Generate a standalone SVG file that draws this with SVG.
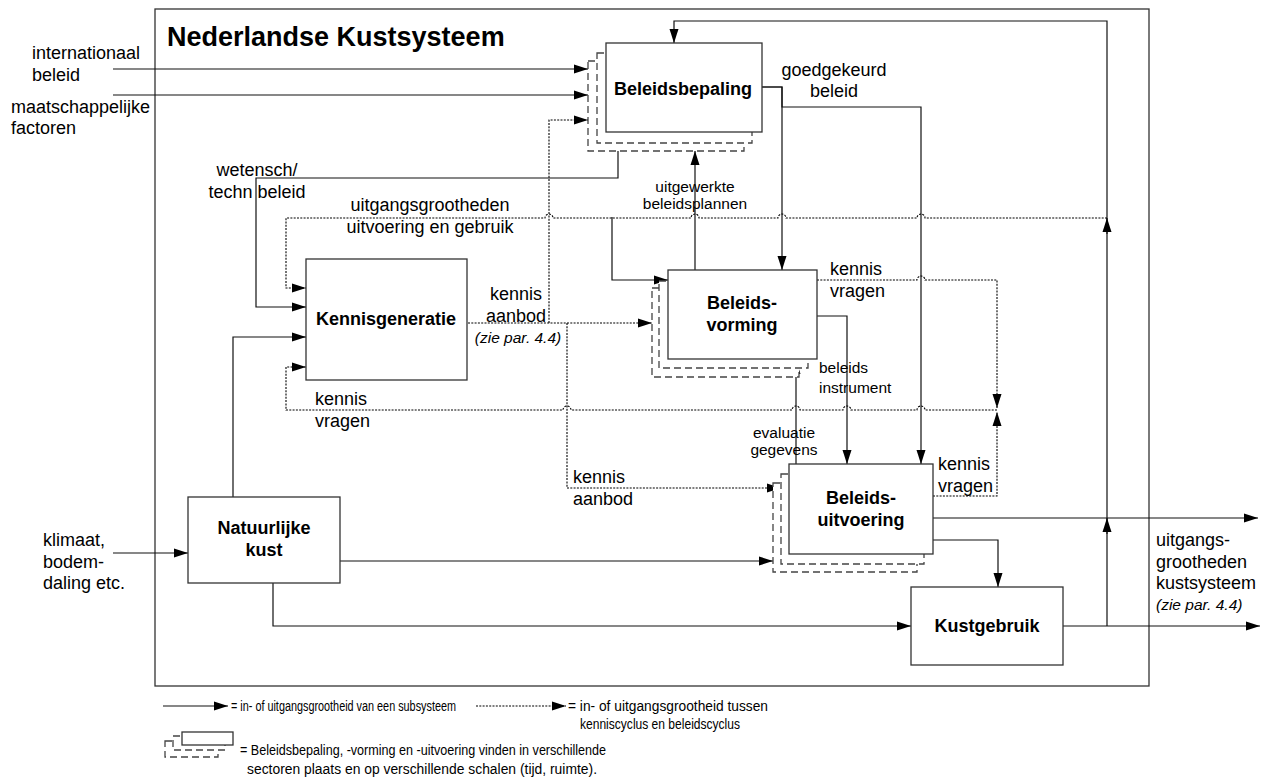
<svg xmlns="http://www.w3.org/2000/svg" width="1273" height="781" viewBox="0 0 1273 781">
  <defs>
    <marker id="ah" markerWidth="14" markerHeight="10" refX="14" refY="5" orient="auto" markerUnits="userSpaceOnUse">
      <path d="M0,0.5 L14,5 L0,9.5 z" fill="#000"/>
    </marker>
    <style>
      text { font-family: "Liberation Sans", Arial, sans-serif; fill: #000; }
      .lbl { font-size: 18px; }
      .sm { font-size: 15.5px; }
      .it { font-size: 15.5px; font-style: italic; }
      .bold { font-size: 18px; font-weight: bold; }
      .mid { text-anchor: middle; }
      .leg { font-size: 15.5px; }
      .box { fill: #fff; stroke: #333; stroke-width: 1.3; }
      .shadow { fill: #fff; stroke: #444; stroke-width: 1.3; stroke-dasharray: 7 4; }
      .s { fill: none; stroke: #111; stroke-width: 1.2; }
      .d { fill: none; stroke: #000; stroke-width: 1.1; stroke-dasharray: 2 1.3; }
      .arr { marker-end: url(#ah); }
    </style>
  </defs>

  <rect width="1273" height="781" fill="#fff"/>

  <!-- system boundary -->
  <g id="frame">
    <rect x="155" y="9" width="994" height="677" fill="none" stroke="#333" stroke-width="1.3"/>
    <text x="167" y="46" font-size="27" font-weight="bold">Nederlandse Kustsysteem</text>
  </g>

  <!-- connectors -->
  <g id="connectors">
    <!-- external inputs -->
    <path class="s arr" d="M113,69 H588"/>
    <path class="s arr" d="M113,95 H588"/>
    <path class="s arr" d="M113,553 H188"/>

    <!-- feedback loop along the right side to Beleidsbepaling -->
    <path class="s arr" d="M1107,626 V21 H674 V43"/>
    <path class="s arr" d="M1107,534 V518"/>
    <path class="s arr" d="M1107,234 V218"/>

    <!-- goedgekeurd beleid -->
    <path class="s arr" d="M762,87 H782 V270"/>
    <path class="s arr" d="M762,87 H782 V107 H921 V464"/>

    <!-- wetensch/techn beleid -->
    <path class="s arr" d="M618,132 V178 H256 V307 H306"/>

    <!-- Natuurlijke kust outputs -->
    <path class="s arr" d="M233,497 V337 H306"/>
    <path class="s arr" d="M340,561 H773"/>
    <path class="s arr" d="M273,583 V626 H911"/>

    <!-- Beleidsvorming / Beleidsuitvoering links -->
    <path class="s arr" d="M817,316 H847 V464"/>
    <path class="s arr" d="M796,464 V360"/>
    <path class="s arr" d="M695,270 V151"/>
    <path class="s arr" d="M612,217 V280 H668"/>

    <!-- outputs of the system -->
    <path class="s arr" d="M933,518 H1258"/>
    <path class="s arr" d="M933,540 H998 V587"/>
    <path class="s arr" d="M1063,626 H1260"/>

    <!-- dotted: uitgangsgrootheden uitvoering en gebruik -->
    <path class="d arr" d="M1107,218 H925 a4,4 0 0 0 -8,0 H786 a4,4 0 0 0 -8,0 H699 a4,4 0 0 0 -8,0 H553 a4,4 0 0 0 -8,0 H286 V288 H306"/>

    <!-- dotted: kennis vragen (lower loop) -->
    <path class="d arr" d="M997,410 H925 a4,4 0 0 0 -8,0 H851 a4,4 0 0 0 -8,0 H800 a4,4 0 0 0 -8,0 H571 a4,4 0 0 0 -8,0 H286 V367 H306"/>
    <path class="d arr" d="M817,280 H917 a4,4 0 0 1 8,0 H997 V408"/>
    <path class="d arr" d="M933,496 H997 V412"/>

    <!-- dotted: kennis aanbod -->
    <path class="d arr" d="M468,323 H652"/>
    <path class="d arr" d="M549,323 V120 H588"/>
    <path class="d arr" d="M567,323 V488 H781"/>
  </g>

  <!-- nodes -->
  <g id="beleidsbepaling">
    <rect class="shadow" x="588" y="61" width="156" height="90"/>
    <rect class="shadow" x="597" y="53" width="155" height="90"/>
    <rect class="box" x="606" y="43" width="156" height="89"/>
    <text class="bold mid" x="683" y="95">Beleidsbepaling</text>
  </g>

  <g id="kennisgeneratie">
    <rect class="box" x="306" y="259" width="161" height="121"/>
    <text class="bold mid" x="386" y="325">Kennisgeneratie</text>
  </g>

  <g id="beleidsvorming">
    <rect class="shadow" x="652" y="288" width="147" height="89"/>
    <rect class="shadow" x="659" y="281" width="149" height="87"/>
    <rect class="box" x="668" y="270" width="149" height="89"/>
    <text class="bold mid" x="742" y="309">Beleids-</text>
    <text class="bold mid" x="742" y="331">vorming</text>
  </g>

  <g id="beleidsuitvoering">
    <rect class="shadow" x="773" y="483" width="144" height="89"/>
    <rect class="shadow" x="781" y="474" width="143" height="90"/>
    <rect class="box" x="789" y="464" width="144" height="90"/>
    <text class="bold mid" x="861" y="504">Beleids-</text>
    <text class="bold mid" x="861" y="526">uitvoering</text>
  </g>

  <g id="natuurlijke-kust">
    <rect class="box" x="188" y="497" width="152" height="86"/>
    <text class="bold mid" x="264" y="534">Natuurlijke</text>
    <text class="bold mid" x="264" y="556">kust</text>
  </g>

  <g id="kustgebruik">
    <rect class="box" x="911" y="587" width="152" height="78"/>
    <text class="bold mid" x="987" y="632">Kustgebruik</text>
  </g>

  <!-- flow labels -->
  <g id="labels">
    <text class="lbl" x="32" y="59">internationaal</text>
    <text class="lbl" x="32" y="81">beleid</text>
    <text class="lbl" x="11" y="113">maatschappelijke</text>
    <text class="lbl" x="11" y="134">factoren</text>

    <text class="lbl mid" x="257" y="176">wetensch/</text>
    <text class="lbl mid" x="257" y="198">techn beleid</text>

    <text class="lbl mid" x="834" y="76">goedgekeurd</text>
    <text class="lbl mid" x="834" y="97">beleid</text>

    <text class="sm mid" x="695" y="192">uitgewerkte</text>
    <text class="sm mid" x="695" y="209">beleidsplannen</text>

    <text class="lbl mid" x="430" y="211">uitgangsgrootheden</text>
    <text class="lbl mid" x="430" y="233">uitvoering en gebruik</text>

    <text class="lbl mid" x="516" y="300">kennis</text>
    <text class="lbl mid" x="516" y="322">aanbod</text>
    <text class="it mid" x="518" y="343">(zie par. 4.4)</text>

    <text class="lbl" x="830" y="275">kennis</text>
    <text class="lbl" x="830" y="297">vragen</text>

    <text class="sm" x="819" y="373">beleids</text>
    <text class="sm" x="819" y="393">instrument</text>

    <text class="lbl" x="315" y="405">kennis</text>
    <text class="lbl" x="315" y="427">vragen</text>

    <text class="sm mid" x="784" y="438">evaluatie</text>
    <text class="sm mid" x="784" y="455">gegevens</text>

    <text class="lbl" x="573" y="483">kennis</text>
    <text class="lbl" x="573" y="505">aanbod</text>

    <text class="lbl" x="938" y="470">kennis</text>
    <text class="lbl" x="938" y="492">vragen</text>

    <text class="lbl" x="43" y="546">klimaat,</text>
    <text class="lbl" x="43" y="568">bodem-</text>
    <text class="lbl" x="43" y="589">daling etc.</text>

    <text class="lbl" x="1156" y="546">uitgangs-</text>
    <text class="lbl" x="1156" y="568">grootheden</text>
    <text class="lbl" x="1156" y="589">kustsysteem</text>
    <text class="it" x="1156" y="610">(zie par. 4.4)</text>
  </g>

  <!-- legend -->
  <g id="legend">
    <path class="s arr" d="M163,706 H228"/>
    <text class="leg" x="231" y="711" textLength="225" lengthAdjust="spacingAndGlyphs">= in- of uitgangsgrootheid van een subsysteem</text>
    <path class="d arr" d="M476,706 H566"/>
    <text class="leg" x="568" y="711" textLength="200" lengthAdjust="spacingAndGlyphs">= in- of uitgangsgrootheid tussen</text>
    <text class="leg" x="580" y="729" textLength="160" lengthAdjust="spacingAndGlyphs">kenniscyclus en beleidscyclus</text>

    <rect class="shadow" x="165" y="741" width="53" height="16" stroke-dasharray="5 3"/>
    <rect class="shadow" x="173" y="736" width="52" height="14" stroke-dasharray="5 3"/>
    <rect class="box" x="182" y="732" width="51" height="13"/>
    <text class="leg" x="240" y="755" textLength="366" lengthAdjust="spacingAndGlyphs">= Beleidsbepaling, -vorming en -uitvoering vinden in verschillende</text>
    <text class="leg" x="247" y="774" textLength="350" lengthAdjust="spacingAndGlyphs">sectoren plaats en op verschillende schalen (tijd, ruimte).</text>
  </g>
</svg>
